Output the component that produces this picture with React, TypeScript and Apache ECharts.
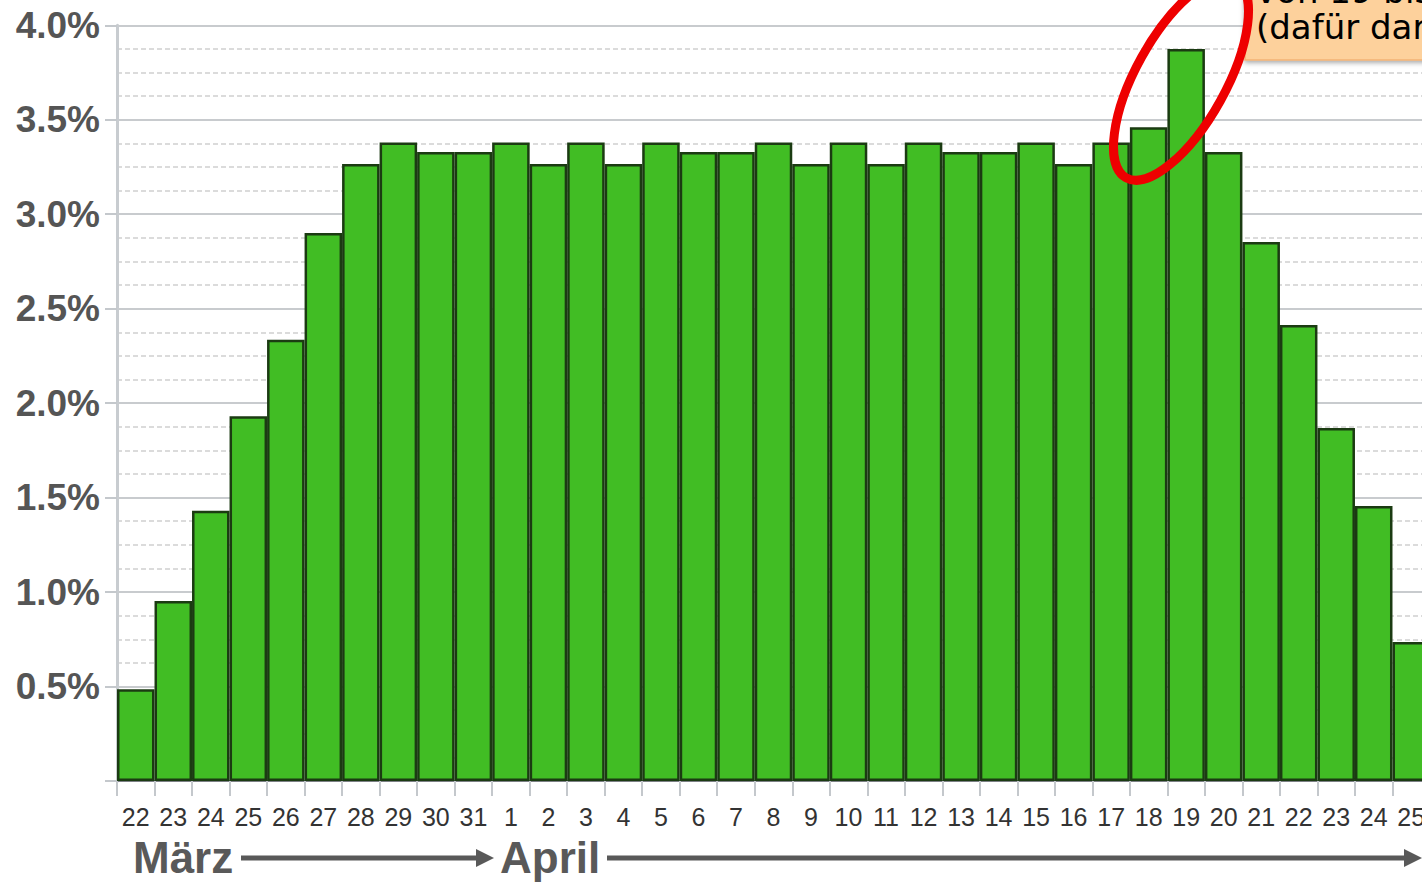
import { useEffect, useRef } from "react";
import * as echarts from "echarts";

const days = [
  "22", "23", "24", "25", "26", "27", "28", "29", "30", "31",
  "1", "2", "3", "4", "5", "6", "7", "8", "9", "10",
  "11", "12", "13", "14", "15", "16", "17", "18", "19", "20",
  "21", "22", "23", "24", "25",
];

const shares = [
  0.485, 0.953, 1.43, 1.93, 2.335, 2.9, 3.266, 3.38, 3.33, 3.33,
  3.38, 3.266, 3.38, 3.266, 3.38, 3.33, 3.33, 3.38, 3.266, 3.38,
  3.266, 3.38, 3.33, 3.33, 3.38, 3.266, 3.38, 3.46, 3.875, 3.33,
  2.853, 2.414, 1.869, 1.456, 0.736,
];

const months = ["März", "April"];
const noteLines = ["von 19 bis", "(dafür dar"];

export default function App() {
  const ref = useRef<HTMLDivElement>(null);

  useEffect(() => {
    document.body.style.margin = "0";
    document.body.style.overflow = "hidden";
    if (!ref.current) return;
    const chart = echarts.init(ref.current, null, { renderer: "svg" });
    const grey = "#595959";
    chart.setOption({
      animation: false,
      backgroundColor: "#ffffff",
      grid: { left: 117, top: 25.3, bottom: 102, right: 0, containLabel: false },
      xAxis: {
        type: "category",
        data: days,
        boundaryGap: true,
        axisLine: { show: true, lineStyle: { color: "#7d8186", width: 2 } },
        axisTick: {
          show: true,
          alignWithLabel: false,
          interval: 0,
          length: 15,
          lineStyle: { color: "#c4c8cc", width: 2 },
        },
        axisLabel: {
          interval: 0,
          margin: 23,
          fontSize: 25,
          fontFamily: "Liberation Sans, Arial, sans-serif",
          color: "#333333",
        },
        splitLine: { show: false },
      },
      yAxis: {
        type: "value",
        min: 0,
        max: 4,
        interval: 0.5,
        minorTick: { show: false, splitNumber: 4 },
        minorSplitLine: {
          show: true,
          lineStyle: { color: "#cfcfcf", width: 1.5, type: [5, 3] },
        },
        splitLine: { show: true, lineStyle: { color: "#c8cbce", width: 2 } },
        axisLine: { show: true, lineStyle: { color: "#c8ccd0", width: 3 } },
        axisTick: { show: true, length: 12, lineStyle: { color: "#c4c8cc", width: 2 } },
        axisLabel: {
          margin: 17,
          fontSize: 37,
          fontWeight: "bold",
          fontFamily: "Liberation Sans, Arial, sans-serif",
          color: "#555555",
          formatter: (v: number) => (v === 0 ? "" : v.toFixed(1) + "%"),
        },
      },
      series: [
        {
          type: "bar",
          data: shares,
          barCategoryGap: "0%",
          itemStyle: { color: "#41bd24", borderColor: "#1b3b12", borderWidth: 2.5 },
        },
      ],
      graphic: {
        elements: [
          {
            type: "rect",
            shape: { x: 1245, y: -10, width: 220, height: 70 },
            style: {
              fill: "#fdd19c",
              stroke: "#f2b274",
              lineWidth: 1.5,
              shadowBlur: 5,
              shadowOffsetY: 2,
              shadowColor: "rgba(0,0,0,0.35)",
            },
            z: 10,
          },
          {
            type: "text",
            x: 1256,
            y: 45,
            style: {
              text: noteLines.join("\n"),
              font: "34px 'DejaVu Sans', Verdana, sans-serif",
              lineHeight: 36,
              fill: "#000000",
              textVerticalAlign: "bottom",
            },
            z: 11,
          },
          {
            type: "ellipse",
            x: 1181,
            y: 79,
            rotation: (61 * Math.PI) / 180,
            shape: { cx: 0, cy: 0, rx: 113, ry: 45 },
            style: { fill: "none", stroke: "#ee0000", lineWidth: 9 },
            z: 12,
          },
          {
            type: "text",
            x: 133,
            y: 857,
            style: {
              text: months[0],
              font: "bold 44px 'Liberation Sans', Arial, sans-serif",
              fill: grey,
              textVerticalAlign: "middle",
            },
          },
          {
            type: "text",
            x: 500,
            y: 857,
            style: {
              text: months[1],
              font: "bold 44px 'Liberation Sans', Arial, sans-serif",
              fill: grey,
              textVerticalAlign: "middle",
            },
          },
          {
            type: "rect",
            shape: { x: 241, y: 855.5, width: 240, height: 5 },
            style: { fill: grey },
          },
          {
            type: "polygon",
            shape: { points: [[476, 849], [494, 858], [476, 867]] },
            style: { fill: grey },
          },
          {
            type: "rect",
            shape: { x: 607, y: 855.5, width: 800, height: 5 },
            style: { fill: grey },
          },
          {
            type: "polygon",
            shape: { points: [[1404, 849], [1422, 858], [1404, 867]] },
            style: { fill: grey },
          },
        ],
      },
    });
    return () => chart.dispose();
  }, []);

  return (
    <div style={{ width: 1422, height: 883, overflow: "hidden" }}>
      <div ref={ref} style={{ width: 1430, height: 883 }} />
    </div>
  );
}
